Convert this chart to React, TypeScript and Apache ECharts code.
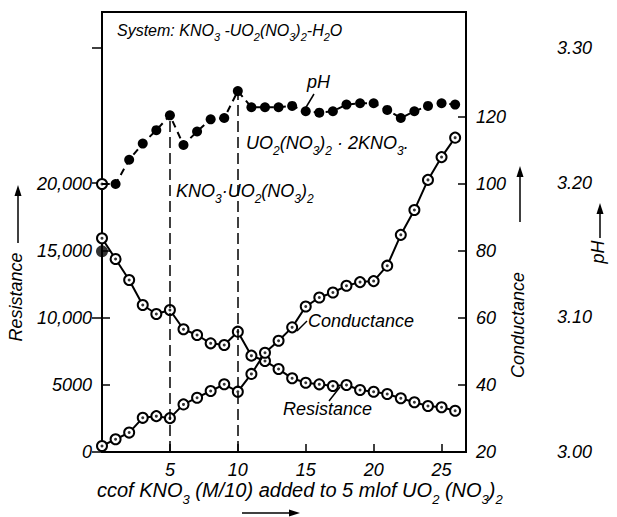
import React, { useEffect, useRef } from "react";
import * as echarts from "echarts";

// ml of KNO3 (M/10) added
const steps = [0, 1, 2, 3, 4, 5, 6, 7, 8, 9, 10, 11, 12, 13, 14, 15, 16, 17, 18, 19, 20, 21, 22, 23, 24, 25, 26];
// resistance has two readings at 0 ml
const resistanceSteps = [0, 0, 1, 2, 3, 4, 5, 6, 7, 8, 9, 10, 11, 12, 13, 14, 15, 16, 17, 18, 19, 20, 21, 22, 23, 24, 25, 26];
const resistanceValues = [20000, 15950, 14400, 12840, 10970, 10300, 10600, 9160, 8730, 8110, 7985, 8980, 7190, 6790, 6190, 5500, 5170, 5050, 4925, 5000, 4630, 4500, 4330, 4010, 3710, 3430, 3340, 3080];
const conductanceValues = [21.8, 23.8, 25.8, 30.2, 30.7, 30.1, 34.2, 36.2, 38.2, 40.2, 38.0, 43.3, 49.6, 53.2, 57.2, 63.4, 66.1, 67.6, 69.6, 70.7, 71.0, 75.6, 84.8, 92.2, 101.2, 108.0, 113.8];
const phValues = [3.199, 3.199, 3.217, 3.229, 3.239, 3.25, 3.228, 3.238, 3.247, 3.248, 3.268, 3.256, 3.256, 3.256, 3.257, 3.253, 3.252, 3.253, 3.258, 3.259, 3.259, 3.254, 3.248, 3.253, 3.257, 3.259, 3.258];
const phInitialSteps = [0];
const phInitialValues = [3.149];
const compoundSteps = [5, 10];

const xTicks = [5, 10, 15, 20, 25];
const resistanceTicks = [0, 5000, 10000, 15000, 20000];
const conductanceTicks = [20, 40, 60, 80, 100, 120];
const phTicks = [3.0, 3.1, 3.2, 3.3];

const FONT = '"Liberation Sans", Arial, "DejaVu Sans", sans-serif';

function richFor(size: number) {
  const drop = Math.round(size * 0.28);
  const subSize = Math.round(size * 0.67);
  return {
    b: { fontSize: size, fontStyle: "italic", fontFamily: FONT, fill: "#000", color: "#000", lineHeight: size + 2, verticalAlign: "bottom", padding: [0, 0, drop, 0] },
    s: { fontSize: subSize, fontStyle: "italic", fontFamily: FONT, fill: "#000", color: "#000", lineHeight: subSize + 2, verticalAlign: "bottom" },
  };
}

function txt(x: number, y: number, text: string, opts: any = {}) {
  const align = opts.align || "left";
  const size = opts.size || 18;
  return {
    type: "text",
    x,
    y,
    rotation: opts.rotation || 0,
    z: 100,
    style: {
      text,
      rich: richFor(size),
      fill: "#000",
      fontSize: size,
      fontStyle: "italic",
      fontFamily: FONT,
      align,
      textAlign: align,
      verticalAlign: "middle",
      textVerticalAlign: "middle",
    },
  };
}

function line(x1: number, y1: number, x2: number, y2: number, w = 1.5) {
  return { type: "line", z: 100, shape: { x1, y1, x2, y2 }, style: { stroke: "#000", lineWidth: w } };
}

function head(points: number[][]) {
  return { type: "polygon", z: 100, shape: { points }, style: { fill: "#000" } };
}

export default function App() {
  const ref = useRef<HTMLDivElement>(null);
  useEffect(() => {
    document.body.style.margin = "0";
    if (!ref.current) return;
    const chart = echarts.init(ref.current, null, { renderer: "svg" });
    const axisLabel = { color: "#000", fontStyle: "italic", fontSize: 18, lineHeight: 18, fontFamily: FONT };
    const axisLine = { show: true, lineStyle: { color: "#000", width: 2 } };
    const tick = (vals: number[], len = 8) => ({ show: true, inside: true, length: len, customValues: vals, lineStyle: { color: "#000", width: 1.5 } });

    const resistanceData = resistanceSteps.map((x, i) => [x, resistanceValues[i]]);
    const conductanceData = steps.map((x, i) => [x, conductanceValues[i]]);
    const phData = steps.map((x, i) => (i === 0 ? { value: [x, phValues[i]], symbol: "none" } : [x, phValues[i]]));

    const option: any = {
      animation: false,
      backgroundColor: "#fff",
      grid: [
        { left: 102, right: 151, top: 12, bottom: 65, show: true, borderColor: "#000", borderWidth: 2, backgroundColor: "transparent" },
        { left: 102, right: 151, top: 48, bottom: 65, show: false },
      ],
      xAxis: [
        {
          type: "value", gridIndex: 0, min: 0, max: 26.8, interval: 5,
          axisLine, axisTick: tick(xTicks),
          axisLabel: { ...axisLabel, margin: 9, customValues: xTicks },
          splitLine: { show: false },
        },
        { type: "value", gridIndex: 1, min: 0, max: 26.8, show: false, splitLine: { show: false } },
      ],
      yAxis: [
        {
          type: "value", gridIndex: 0, position: "left", min: 0, max: 32836, interval: 5000,
          axisLine, axisTick: tick(resistanceTicks),
          axisLabel: {
            ...axisLabel, margin: 10, customValues: resistanceTicks,
            formatter: (v: number) => (v === 5000 || v === 0 ? String(v) : v.toLocaleString("en-US")),
          },
          splitLine: { show: false },
        },
        {
          type: "value", gridIndex: 0, position: "right", min: 20, max: 151.3, interval: 20,
          axisLine, axisTick: tick(conductanceTicks),
          axisLabel: { ...axisLabel, margin: 10, customValues: conductanceTicks },
          splitLine: { show: false },
        },
        {
          type: "value", gridIndex: 1, position: "right", offset: 82, min: 3.0, max: 3.3, interval: 0.1,
          axisLine, axisTick: tick(phTicks, 10),
          axisLabel: { ...axisLabel, margin: 9, customValues: phTicks, formatter: (v: number) => v.toFixed(2) },
          splitLine: { show: false },
        },
      ],
      series: [
        {
          name: "Resistance", type: "line", xAxisIndex: 0, yAxisIndex: 0, data: resistanceData,
          symbol: "emptyCircle", symbolSize: 10, showAllSymbol: true,
          lineStyle: { color: "#000", width: 2 },
          itemStyle: { color: "#000", borderColor: "#000", borderWidth: 1.5 },
          z: 3,
        },
        {
          name: "Resistance dots", type: "scatter", xAxisIndex: 0, yAxisIndex: 0, data: resistanceData,
          symbol: "circle", symbolSize: 3, itemStyle: { color: "#000" }, z: 6,
        },
        {
          name: "Conductance", type: "line", xAxisIndex: 0, yAxisIndex: 1, data: conductanceData,
          symbol: "emptyCircle", symbolSize: 10, showAllSymbol: true,
          lineStyle: { color: "#000", width: 2 },
          itemStyle: { color: "#000", borderColor: "#000", borderWidth: 1.5 },
          z: 4,
        },
        {
          name: "Conductance dots", type: "scatter", xAxisIndex: 0, yAxisIndex: 1, data: conductanceData,
          symbol: "circle", symbolSize: 3, itemStyle: { color: "#000" }, z: 6,
        },
        {
          name: "pH", type: "line", xAxisIndex: 1, yAxisIndex: 2, data: phData,
          symbol: "circle", symbolSize: 10, showAllSymbol: true,
          lineStyle: { color: "#000", width: 2, type: [7, 5] },
          itemStyle: { color: "#000" },
          z: 5,
          markLine: {
            silent: true, symbol: ["none", "none"], label: { show: false },
            lineStyle: { color: "#000", width: 1.5, type: [11, 5] },
            data: compoundSteps.map((x) => [{ coord: [x, 3.0] }, { coord: [x, phValues[steps.indexOf(x)]] }]),
          },
        },
        {
          name: "pH initial", type: "scatter", xAxisIndex: 1, yAxisIndex: 2,
          data: phInitialSteps.map((x, i) => [x, phInitialValues[i]]),
          symbol: "circle", symbolSize: 12, itemStyle: { color: "#000" }, z: 5,
        },
      ],
      graphic: [
        txt(117, 33, "{b|System: KNO}{s|3}{b| -UO}{s|2}{b|(NO}{s|3}{b|)}{s|2}{b|-H}{s|2}{b|O}", { size: 16 }),
        txt(307, 86, "{b|pH}"),
        line(314, 94, 305, 109),
        txt(246, 147, "{b|UO}{s|2}{b|(NO}{s|3}{b|)}{s|2}{b| · 2KNO}{s|3}{b|.}"),
        txt(176, 195, "{b|KNO}{s|3}{b|·UO}{s|2}{b|(NO}{s|3}{b|)}{s|2}"),
        txt(308, 325, "{b|Conductance}"),
        line(307, 321, 297, 331),
        txt(283, 413, "{b|Resistance}"),
        line(340, 387, 329, 401),
        txt(97, 495, "{b|ccof KNO}{s|3}{b| (M/10) added to 5 mlof UO}{s|2}{b| (NO}{s|3}{b|)}{s|2}", { size: 20 }),
        line(242, 513, 291, 513),
        head([[300, 513], [289, 509.5], [289, 516.5]]),
        txt(20, 297, "{b|Resistance}", { align: "center", rotation: Math.PI / 2 }),
        line(18, 243, 18, 195),
        head([[18, 185], [14.5, 196], [21.5, 196]]),
        txt(522, 325, "{b|Conductance}", { align: "center", rotation: Math.PI / 2 }),
        line(520, 222, 520, 176),
        head([[520, 166], [516.5, 177], [523.5, 177]]),
        txt(602, 252, "{b|pH}", { align: "center", rotation: Math.PI / 2 }),
        line(600, 238, 600, 213),
        head([[600, 203], [596.5, 214], [603.5, 214]]),
      ],
    };
    chart.setOption(option);
    return () => chart.dispose();
  }, []);
  return <div ref={ref} style={{ width: 617, height: 517 }} />;
}
